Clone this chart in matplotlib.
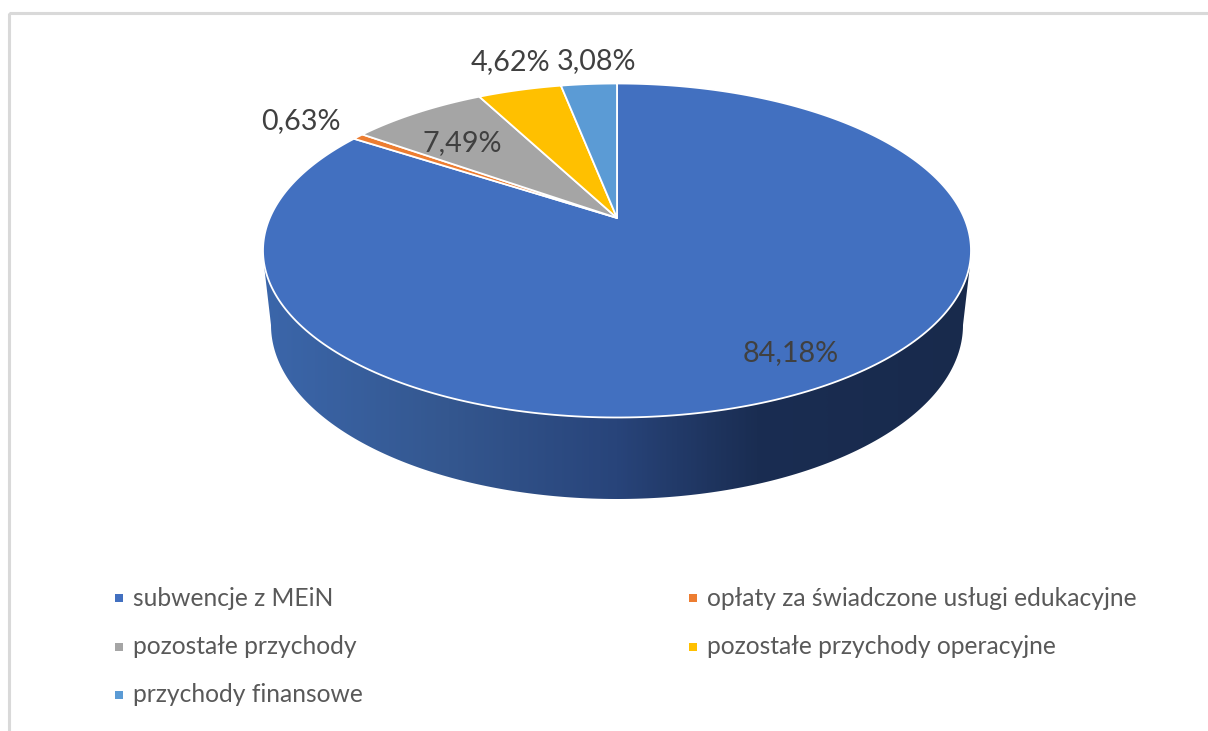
import numpy as np
import matplotlib
matplotlib.use("Agg")
import matplotlib.pyplot as plt
from matplotlib.colors import LinearSegmentedColormap
from matplotlib.patches import Polygon, Rectangle

plt.rcParams['font.family'] = ['Lato', 'DejaVu Sans']

# data
categories = ["subwencje z MEiN", "opłaty za świadczone usługi edukacyjne",
              "pozostałe przychody", "pozostałe przychody operacyjne",
              "przychody finansowe"]
shares = [84.18, 0.63, 7.49, 4.62, 3.08]

colors = ["#4270C0", "#ED7D31", "#A5A5A5", "#FFC000", "#5B9BD5"]

# layout in pixels of the picture
label_pos = [(791, 353), (301, 121), (462, 143), (510, 62), (597, 61)]
legend_pos = [(119, 598), (693, 598), (119, 647), (693, 647), (119, 695)]
cx, cy, rx, ry = 617, 250.5, 354, 167
tilt = 0.195  # how far the pie centre sits above the ellipse centre


# map a point of the unit circle to the tilted pie top
def tilted(angle):
    x = np.cos(angle)
    y = np.sin(angle)
    d = 1 + tilt * y
    return (cx + rx * x * np.sqrt(1 - tilt ** 2) / d,
            cy - ry * (y + tilt) / d)


fig = plt.figure(figsize=(12.08, 7.31), dpi=100)
ax = fig.add_axes([0, 0, 1, 1])

# side wall with horizontal shading
t = np.linspace(np.pi, 2 * np.pi, 200)
wall_x = np.concatenate([[264], 617 + 346 * np.cos(t), [970]])
wall_y = np.concatenate([[265], 325 - 174 * np.sin(t), [265]])
wall = Polygon(np.column_stack([wall_x, wall_y]), closed=True, facecolor="none", edgecolor="none")
ax.add_patch(wall)
shade = LinearSegmentedColormap.from_list("wall", [(0, "#3B66AA"), (0.26, "#34578F"), (0.5, "#28447A"),
                                                   (0.7, "#1A2D52"), (1, "#182A4C")])
img = ax.imshow(np.linspace(0, 1, 400).reshape(1, -1), cmap=shade, aspect="auto",
                extent=(264, 970, 510, 260), zorder=1)
img.set_clip_path(wall)

# pie top, clockwise from 12 o'clock
start = 0.0
for share, color in zip(shares, colors):
    a = np.pi / 2 - 2 * np.pi * np.linspace(start, start + share, 300) / 100
    px, py = tilted(a)
    pts = np.column_stack([np.r_[cx, px], np.r_[cy - ry * tilt, py]])
    ax.add_patch(Polygon(pts, closed=True, facecolor=color, edgecolor="white",
                         linewidth=1.3, joinstyle="round", zorder=2))
    start += share

# data labels
for share, (lx, ly) in zip(shares, label_pos):
    label = f"{share:.2f}".replace(".", ",") + "%"
    ax.text(lx, ly, label, ha="center", va="center", fontsize=20.7, color="#404040", zorder=3)

# legend
for name, color, (lx, ly) in zip(categories, colors, legend_pos):
    ax.add_patch(Rectangle((lx - 4, ly - 4), 8, 8, facecolor=color, edgecolor="none"))
    ax.text(lx + 14, ly, name, ha="left", va="center", fontsize=17.7, color="#595959")

# frame of the pasted chart
ax.add_patch(Rectangle((8.5, 12.5), 1300, 800, facecolor="none", edgecolor="#D9D9D9", linewidth=2.2))

ax.set_xlim(0, 1208)
ax.set_ylim(731, 0)
ax.axis("off")
fig.savefig("out.png", dpi=100)
